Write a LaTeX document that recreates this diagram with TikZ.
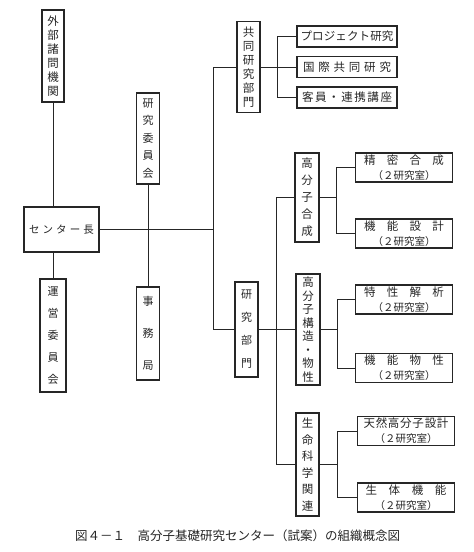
\documentclass[tikz,border=0pt]{standalone}
\usepackage{fontspec}
\newfontfamily\jp{Noto Sans CJK JP}
\begin{document}
\begin{tikzpicture}[x=1pt,y=-1pt,
  every node/.style={inner sep=0pt, text=black!85},
  vb/.style 2 args={draw=black!85, line width=1.1pt, minimum width=#1, minimum height=#2, align=center},
  hb/.style 2 args={draw=black!85, line width=1.1pt, minimum width=#1, minimum height=#2, align=center},
  conn/.style={draw=black!85, line width=0.9pt}]
\useasboundingbox[fill=white] (0,0) rectangle (474,552);

% left column
\node[vb={22pt}{92pt}, font=\jp\fontsize{11.5}{14}\selectfont] (gai) at (53,56) {外\\部\\諸\\問\\機\\関};
\node[hb={75pt}{45pt}, font=\jp\fontsize{10.5}{12}\selectfont] (center) at (61.5,229.5) {\makebox[65pt][s]{セ\hfill ン\hfill タ\hfill ー\hfill 長}};
\node[vb={26pt}{113pt}, font=\jp\fontsize{11}{22}\selectfont] (unei) at (53,335.5) {運\\営\\委\\員\\会};

% second column
\node[vb={23pt}{91pt}, font=\jp\fontsize{11}{17.5}\selectfont] (iinkai) at (148,138.5) {研\\究\\委\\員\\会};
\node[vb={23pt}{93pt}, font=\jp\fontsize{11}{32}\selectfont] (jimu) at (148,333.5) {事\\務\\局};

% departments
\node[vb={23pt}{91pt}, font=\jp\fontsize{11.5}{14}\selectfont] (kyodo) at (248.5,67) {共\\同\\研\\究\\部\\門};
\node[vb={23pt}{95pt}, font=\jp\fontsize{11}{23}\selectfont] (kenkyu) at (246.5,329.5) {研\\究\\部\\門};

% joint research items
\node[hb={100pt}{21pt}, font=\jp\fontsize{11.5}{13}\selectfont] (p1) at (347,36.5) {\makebox[93pt][s]{プ\hfill ロ\hfill ジ\hfill ェ\hfill ク\hfill ト\hfill 研\hfill 究}};
\node[hb={100pt}{21pt}, font=\jp\fontsize{11.5}{13}\selectfont] (p2) at (347,67) {\makebox[88pt][s]{国\hfill 際\hfill 共\hfill 同\hfill 研\hfill 究}};
\node[hb={100pt}{21pt}, font=\jp\fontsize{11.5}{13}\selectfont] (p3) at (347,97.5) {\makebox[90pt][s]{客\hfill 員\hfill ・\hfill 連\hfill 携\hfill 講\hfill 座}};

% research groups
\node[vb={24pt}{89pt}, font=\jp\fontsize{11.5}{17}\selectfont] (g1) at (307,197.5) {高\\分\\子\\合\\成};
\node[vb={24pt}{111pt}, font=\jp\fontsize{11.5}{13.5}\selectfont] (g2) at (308,329.5) {高\\分\\子\\構\\造\\・\\物\\性};
\node[vb={23pt}{103pt}, font=\jp\fontsize{11.5}{16.5}\selectfont] (g3) at (307.5,464.5) {生\\命\\科\\学\\関\\連};

% laboratories
\tikzset{lab/.style={hb={97pt}{29pt}, font=\jp\fontsize{11.5}{15}\selectfont}}
\newcommand\labsub{{\fontsize{10.5}{12}\selectfont （２研究室）}}
\node[lab] (s1) at (404,167.5) {\makebox[80pt][s]{精\hfill 密\hfill 合\hfill 成}\\\labsub};
\node[lab] (s2) at (404,233.5) {\makebox[80pt][s]{機\hfill 能\hfill 設\hfill 計}\\\labsub};
\node[lab] (s3) at (404,299.5) {\makebox[80pt][s]{特\hfill 性\hfill 解\hfill 析}\\\labsub};
\node[lab] (s4) at (404,368) {\makebox[80pt][s]{機\hfill 能\hfill 物\hfill 性}\\\labsub};
\node[lab] (s5) at (406,431) {\makebox[85pt][s]{天\hfill 然\hfill 高\hfill 分\hfill 子\hfill 設\hfill 計}\\\labsub};
\node[lab] (s6) at (406,497.5) {\makebox[81pt][s]{生\hfill 体\hfill 機\hfill 能}\\\labsub};

% caption
\node[font=\jp\fontsize{12.5}{14}\selectfont, anchor=west] (cap) at (75,536) {図４－１　高分子基礎研究センター（試案）の組織概念図};

% bus coordinates
\coordinate (bA) at (213,0);
\coordinate (bB) at (277,0);
\coordinate (bC) at (276,0);
\coordinate (bD) at (336,0);
\coordinate (bE) at (337,0);

% connectors
\draw[conn] (gai.south) -- (gai.south |- center.north);
\draw[conn] (center.south -| unei.north) -- (unei.north);
\draw[conn] (iinkai.south) -- (jimu.north);
\draw[conn] (center.east) -- (center.east -| bA);
\draw[conn] (kyodo.west) -| (bA |- kenkyu.west) -- (kenkyu.west);
\draw[conn] (kyodo.east) -- (p2.west);
\draw[conn] (p1.west) -| (bB |- p3.west) -- (p3.west);
\draw[conn] (kenkyu.east) -- (g2.west);
\draw[conn] (g1.west) -| (bC |- g3.west) -- (g3.west);
\draw[conn] (g1.east) -- (g1.east -| bD);
\draw[conn] (s1.west) -| (bD |- s2.west) -- (s2.west);
\draw[conn] (g2.east) -- (g2.east -| bE);
\draw[conn] (s3.west) -| (bE |- s4.west) -- (s4.west);
\draw[conn] (g3.east) -- (g3.east -| bE);
\draw[conn] (s5.west) -| (bE |- s6.west) -- (s6.west);
\end{tikzpicture}
\end{document}
